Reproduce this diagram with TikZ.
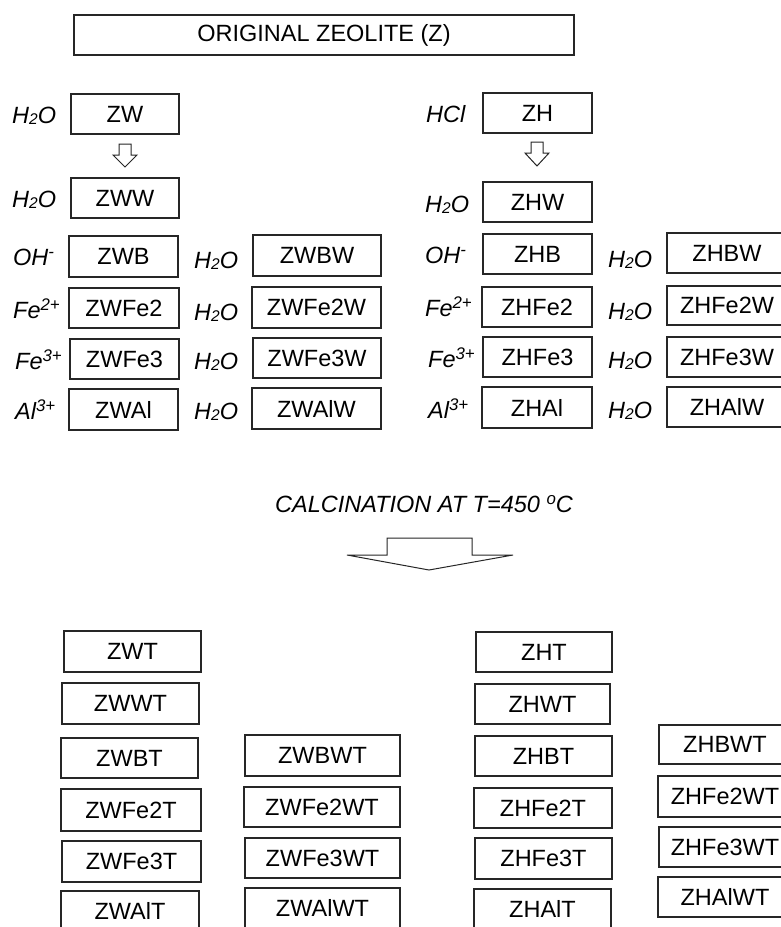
\documentclass[tikz,border=0pt]{standalone}
\usepackage{fontspec}
\setmainfont{Liberation Sans}
\newcommand\supx[1]{\raisebox{7.3pt}{\fontsize{16.8}{17}\selectfont #1}}
\newcommand\subx[1]{\raisebox{-0.05em}{\fontsize{15.5}{16}\selectfont #1}}
\newcommand\water{H\subx{2}O}
\newcommand\mybox[6]{\node[box,minimum width=#4pt,minimum height=#5pt] (#1) at (#2,#3) {#6};}
\newcommand\mylab[4]{\node[lab] (#1) at (#2,#3) {#4};}
\begin{document}
\begin{tikzpicture}[x=1pt,y=-1pt,
  box/.style={draw=black!85, line width=1.2pt, inner sep=0pt, font=\fontsize{23.5}{28}\selectfont},
  lab/.style={inner sep=0pt, anchor=base west, font=\fontsize{23.5}{28}\selectfont\itshape},
  harrow/.style={draw=black!85, line width=1pt, fill=white, line join=miter}]
\useasboundingbox (0,0) rectangle (781,927);
\clip (0,0) rectangle (781,927);

% top
\mybox{Z}{324}{35}{500}{40}{ORIGINAL ZEOLITE (Z)}

% left group
\mylab{lW}{12}{123}{\water}
\mybox{ZW}{125}{114}{108}{40}{ZW}
\draw[harrow] (119,144) -- (131,144) -- (131,155) -- (137,155) -- (125,167) -- (113,155) -- (119,155) -- cycle;
\mylab{lWW}{12}{207}{\water}
\mybox{ZWW}{125}{198}{108}{40}{ZWW}
\mylab{lWB}{13}{265}{OH\supx{-}}
\mybox{ZWB}{123.5}{256.5}{109}{41}{ZWB}
\mylab{lWBW}{194}{268}{\water}
\mybox{ZWBW}{317}{255.5}{128}{41}{ZWBW}
\mylab{lWF2}{13}{318}{Fe\supx{2+}}
\mybox{ZWFe2}{124}{308}{110}{40}{ZWFe2}
\mylab{lWF2W}{194}{320}{\water}
\mybox{ZWFe2W}{316.5}{307.5}{129}{41}{ZWFe2W}
\mylab{lWF3}{15}{369}{Fe\supx{3+}}
\mybox{ZWFe3}{124.5}{359}{109}{40}{ZWFe3}
\mylab{lWF3W}{194}{369}{\water}
\mybox{ZWFe3W}{317}{358}{128}{40}{ZWFe3W}
\mylab{lWA}{15}{419}{Al\supx{3+}}
\mybox{ZWAl}{123.5}{409.5}{109}{41}{ZWAl}
\mylab{lWAW}{194}{419}{\water}
\mybox{ZWAlW}{316.5}{408.5}{129}{41}{ZWAlW}

% right group
\mylab{lH}{426}{122}{HCl}
\mybox{ZH}{537.5}{113}{109}{40}{ZH}
\draw[harrow] (531,142) -- (543,142) -- (543,153) -- (549,153) -- (537,166) -- (525,153) -- (531,153) -- cycle;
\mylab{lHW}{425}{212}{\water}
\mybox{ZHW}{537.5}{202}{109}{40}{ZHW}
\mylab{lHB}{425}{263}{OH\supx{-}}
\mybox{ZHB}{537.5}{254}{109}{40}{ZHB}
\mylab{lHBW}{608}{267}{\water}
\mybox{ZHBW}{727}{253}{120}{40}{ZHBW}
\mylab{lHF2}{425}{316}{Fe\supx{2+}}
\mybox{ZHFe2}{537}{307}{110}{40}{ZHFe2}
\mylab{lHF2W}{608}{319}{\water}
\mybox{ZHFe2W}{727}{305.5}{120}{39}{ZHFe2W}
\mylab{lHF3}{428}{367}{Fe\supx{3+}}
\mybox{ZHFe3}{537.5}{357}{109}{40}{ZHFe3}
\mylab{lHF3W}{608}{368}{\water}
\mybox{ZHFe3W}{727}{357}{120}{40}{ZHFe3W}
\mylab{lHA}{428}{418}{Al\supx{3+}}
\mybox{ZHAl}{537}{407.5}{110}{41}{ZHAl}
\mylab{lHAW}{608}{418}{\water}
\mybox{ZHAlW}{727}{407}{120}{40}{ZHAlW}

% calcination
\node[inner sep=0pt, anchor=base, font=\fontsize{23.5}{28}\selectfont\itshape] (calc) at (424,512) {CALCINATION AT T=450 \supx{o}C};
\draw[harrow] (387,538) -- (472,538) -- (472,555) -- (513,555) -- (429,570) -- (347,555) -- (387,555) -- cycle;

% bottom left
\mybox{ZWT}{132.5}{651.5}{137}{41}{ZWT}
\mybox{ZWWT}{130.5}{703.5}{137}{41}{ZWWT}
\mybox{ZWBT}{129.5}{758}{137}{40}{ZWBT}
\mybox{ZWBWT}{322.5}{755.5}{155}{41}{ZWBWT}
\mybox{ZWFe2T}{131}{810}{140}{42}{ZWFe2T}
\mybox{ZWFe2WT}{322}{807}{156}{40}{ZWFe2WT}
\mybox{ZWFe3T}{131.5}{861.5}{139}{41}{ZWFe3T}
\mybox{ZWFe3WT}{322.5}{858}{155}{40}{ZWFe3WT}
\mybox{ZWAlT}{130}{911}{138}{40}{ZWAlT}
\mybox{ZWAlWT}{322.5}{908}{155}{40}{ZWAlWT}

% bottom right
\mybox{ZHT}{544}{652}{136}{40}{ZHT}
\mybox{ZHWT}{542.5}{704}{135}{40}{ZHWT}
\mybox{ZHBT}{543.5}{756}{137}{40}{ZHBT}
\mybox{ZHBWT}{725}{744.5}{132}{39}{ZHBWT}
\mybox{ZHFe2T}{543}{808}{138}{40}{ZHFe2T}
\mybox{ZHFe2WT}{725}{796.5}{134}{41}{ZHFe2WT}
\mybox{ZHFe3T}{543.5}{858.5}{137}{41}{ZHFe3T}
\mybox{ZHFe3WT}{725}{847}{132}{40}{ZHFe3WT}
\mybox{ZHAlT}{542.5}{909}{137}{40}{ZHAlT}
\mybox{ZHAlWT}{725}{897}{134}{40}{ZHAlWT}
\end{tikzpicture}
\end{document}
